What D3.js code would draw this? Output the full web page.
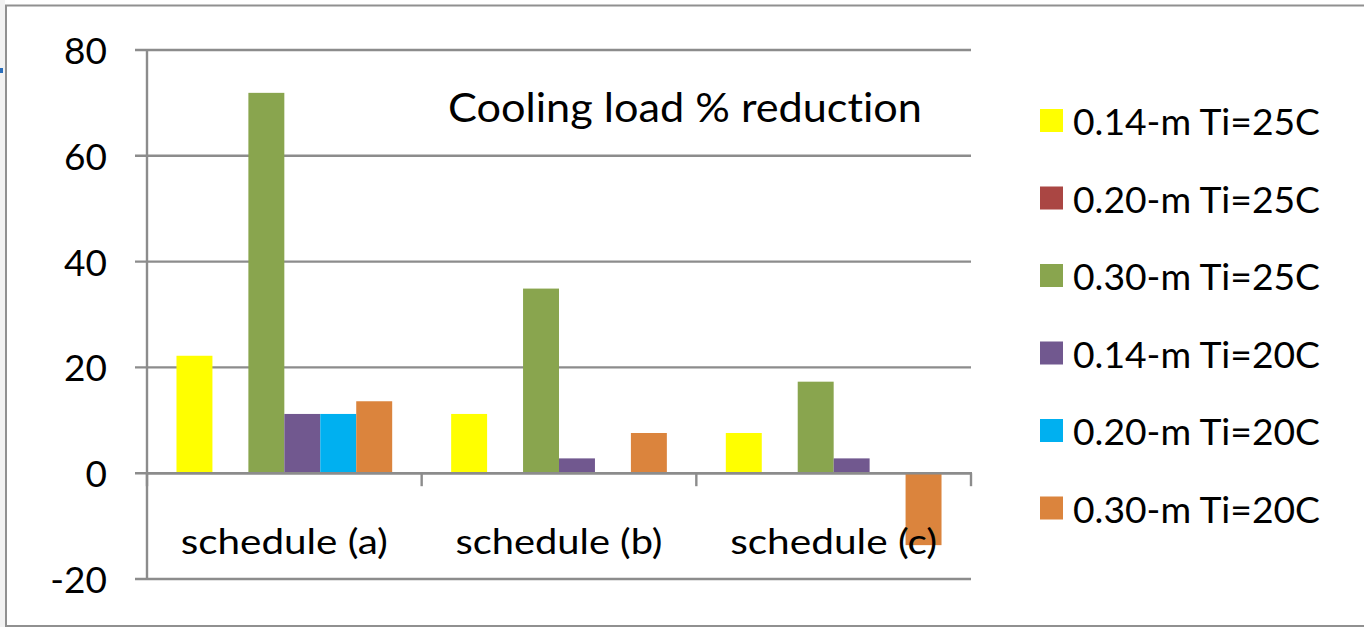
<!DOCTYPE html>
<html>
<head>
<meta charset="utf-8">
<script src="https://cdn.jsdelivr.net/npm/d3@7"></script>
<style>
  html, body { margin: 0; padding: 0; background: #fff; }
  svg { display: block; font-family: Lato, "Open Sans", "Liberation Sans", sans-serif; font-variant-ligatures: none; }
</style>
</head>
<body>
<svg id="chart" width="1364" height="627"></svg>
<script>
// Cooling load % reduction for three schedules and six wall/setpoint cases
const categories = ["schedule (a)", "schedule (b)", "schedule (c)"];
const seriesNames = [
  "0.14-m Ti=25C", "0.20-m Ti=25C", "0.30-m Ti=25C",
  "0.14-m Ti=20C", "0.20-m Ti=20C", "0.30-m Ti=20C"
];
const seriesColors = ["#FFFF00", "#AA4643", "#89A54E", "#71588F", "#00B0F0", "#DB843D"];

// one array per series, in category order
const s014_25 = [22.2, 11.2, 7.6];
const s020_25 = [0, 0, 0];
const s030_25 = [71.9, 34.9, 17.3];
const s014_20 = [11.2, 2.8, 2.8];
const s020_20 = [11.2, 0, 0];
const s030_20 = [13.6, 7.6, -13.6];
const seriesValues = [s014_25, s020_25, s030_25, s014_20, s020_20, s030_20];

const yTicks = [-20, 0, 20, 40, 60, 80];
const titleText = "Cooling load % reduction";

const svg = d3.select("#chart");
const W = 1364, H = 627;
const gridColor = "#8C8C8C";

// chart frame
svg.append("rect").attr("x", 0).attr("y", 0).attr("width", W).attr("height", H).attr("fill", "#fff");
svg.append("rect").attr("x", 0).attr("y", 0).attr("width", 5).attr("height", H).attr("fill", "#F2F2F2");
svg.append("rect").attr("x", 0).attr("y", 68).attr("width", 3).attr("height", 5).attr("fill", "#2A6EBB");
svg.append("path")
  .attr("d", `M${W + 5},5.5 H6 V626 H${W + 5}`)
  .attr("fill", "none").attr("stroke", "#909090").attr("stroke-width", 2);

// plot area
const plot = { left: 147, right: 971, top: 50, bottom: 579 };

const y = d3.scaleLinear().domain([-20, 80]).range([plot.bottom, plot.top]);
const x0 = d3.scaleBand().domain(categories).range([plot.left, plot.right]).paddingInner(0).paddingOuter(0);
const x1 = d3.scaleBand().domain(seriesNames).range([0, x0.bandwidth()]).paddingInner(0).paddingOuter(0.82);

// horizontal gridlines
svg.append("g").selectAll("line").data(yTicks).join("line")
  .attr("x1", plot.left - 12).attr("x2", plot.right)
  .attr("y1", d => y(d)).attr("y2", d => y(d))
  .attr("stroke", gridColor).attr("stroke-width", 2.4);

// value axis line
svg.append("line")
  .attr("x1", plot.left).attr("x2", plot.left)
  .attr("y1", plot.top - 1).attr("y2", plot.bottom + 1)
  .attr("stroke", gridColor).attr("stroke-width", 2.4);

// value axis labels
svg.append("g").selectAll("text").data(yTicks).join("text")
  .attr("x", 107).attr("y", d => y(d) + 14)
  .attr("text-anchor", "end")
  .attr("font-size", 37).attr("fill", "#000")
  .text(d => d);

// bars
const groups = svg.append("g").selectAll("g").data(categories).join("g")
  .attr("transform", c => `translate(${x0(c)},0)`);

groups.selectAll("rect")
  .data((c, ci) => seriesNames.map((s, si) => ({ s, si, v: seriesValues[si][ci] })))
  .join("rect")
  .filter(d => d.v !== 0)
  .attr("x", d => x1(d.s))
  .attr("width", x1.bandwidth())
  .attr("y", d => y(Math.max(0, d.v)))
  .attr("height", d => Math.abs(y(d.v) - y(0)))
  .attr("fill", d => seriesColors[d.si]);

// category axis line at zero, with tick marks between groups
const y0 = y(0);
svg.append("line")
  .attr("x1", plot.left).attr("x2", plot.right + 1)
  .attr("y1", y0).attr("y2", y0)
  .attr("stroke", gridColor).attr("stroke-width", 2.4);

const boundaries = categories.map(c => x0(c)).concat([x0(categories[categories.length - 1]) + x0.bandwidth()]);
svg.append("g").selectAll("line").data(boundaries).join("line")
  .attr("x1", d => d).attr("x2", d => d)
  .attr("y1", y0).attr("y2", y0 + 13)
  .attr("stroke", gridColor).attr("stroke-width", 2.4);

// category labels
svg.append("g").selectAll("text").data(categories).join("text")
  .attr("x", c => x0(c) + x0.bandwidth() / 2)
  .attr("y", y0 + 81)
  .attr("text-anchor", "middle")
  .attr("font-size", 34).attr("fill", "#000")
  .attr("textLength", 207).attr("lengthAdjust", "spacingAndGlyphs")
  .text(c => c);

// chart title inside the plot
svg.append("text")
  .attr("x", 448).attr("y", 122)
  .attr("font-size", 40).attr("fill", "#000")
  .attr("textLength", 474).attr("lengthAdjust", "spacingAndGlyphs")
  .text(titleText);

// legend
const legend = svg.append("g").selectAll("g").data(seriesNames).join("g")
  .attr("transform", (d, i) => `translate(1040, ${135 + i * 77.5})`);
legend.append("rect")
  .attr("x", 0).attr("y", -26).attr("width", 23).attr("height", 23)
  .attr("fill", (d, i) => seriesColors[i]);
legend.append("text")
  .attr("x", 33).attr("y", 0)
  .attr("font-size", 37).attr("fill", "#000")
  .attr("textLength", 247).attr("lengthAdjust", "spacingAndGlyphs")
  .text(d => d);
</script>
</body>
</html>
